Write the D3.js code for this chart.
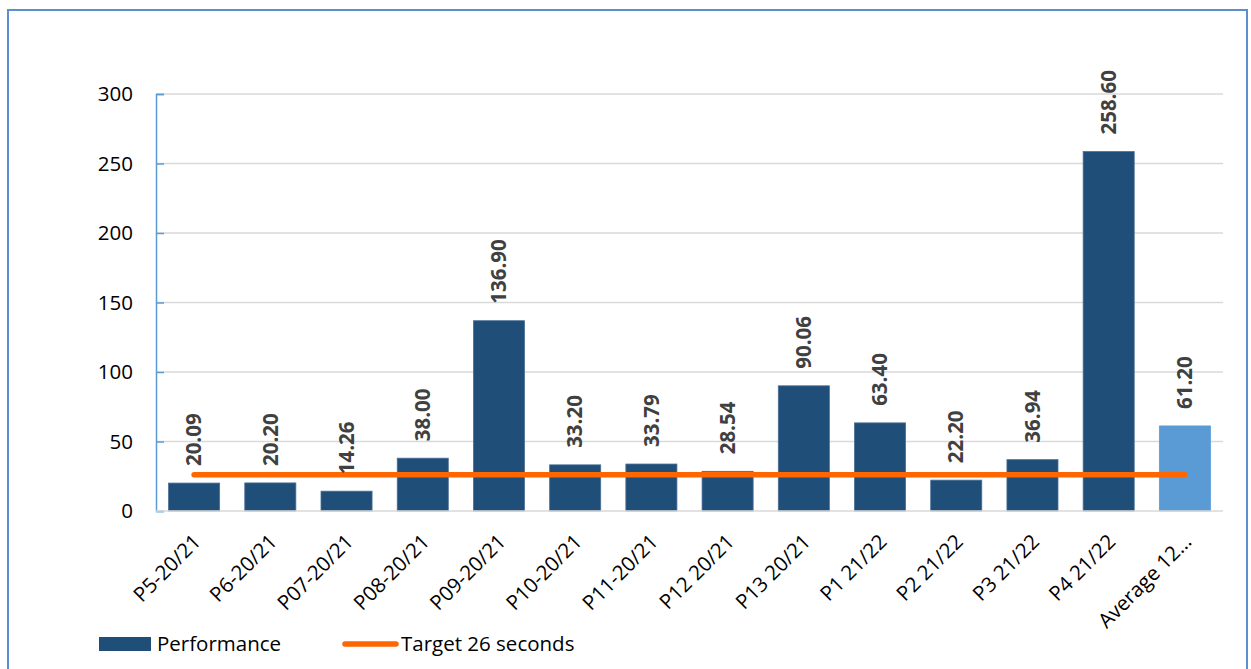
<!DOCTYPE html>
<html>
<head>
<meta charset="utf-8">
<script src="https://cdn.jsdelivr.net/npm/d3@7"></script>
<style>
  html, body { margin: 0; padding: 0; background: #fff; }
  svg { display: block; }
  text { font-family: "Open Sans", "Liberation Sans", sans-serif; }
</style>
</head>
<body>
<svg id="chart" width="1251" height="669"></svg>
<script>
const categories = ["P5-20/21","P6-20/21","P07-20/21","P08-20/21","P09-20/21","P10-20/21","P11-20/21","P12 20/21","P13 20/21","P1 21/22","P2 21/22","P3 21/22","P4 21/22","Average 12…"];
const performance = [20.09, 20.20, 14.26, 38.00, 136.90, 33.20, 33.79, 28.54, 90.06, 63.40, 22.20, 36.94, 258.60, 61.20];
const target = [26,26,26,26,26,26,26,26,26,26,26,26,26,26];
const yTicks = [0, 50, 100, 150, 200, 250, 300];
const seriesNames = ["Performance", "Target 26 seconds"];

(function () {
const svg = d3.select("#chart");
const pLeft = 156, pRight = 1223, pTop = 94, pBottom = 511;

// outer border
svg.append("rect").attr("x", 8).attr("y", 10).attr("width", 1239).attr("height", 680)
  .attr("fill", "none").attr("stroke", "#5b8fd0").attr("stroke-width", 2);

const x = d3.scaleBand().domain(categories).range([pLeft, pRight]).paddingInner(0.33).paddingOuter(0.165);
const y = d3.scaleLinear().domain([0, 300]).range([pBottom, pTop]);

// gridlines
svg.append("g").selectAll("line").data(yTicks.filter(d => d > 0)).join("line")
  .attr("x1", pLeft).attr("x2", pRight)
  .attr("y1", d => y(d)).attr("y2", d => y(d))
  .attr("stroke", "#d9d9d9").attr("stroke-width", 1.5);

// y axis
const yAxis = svg.append("g").attr("transform", `translate(${pLeft},0)`)
  .call(d3.axisLeft(y).tickValues(yTicks).tickSize(-8).tickPadding(23));
yAxis.select(".domain").attr("stroke", "#5b9bd5").attr("stroke-width", 1.5);
yAxis.selectAll(".tick line").attr("stroke", "#5b9bd5").attr("stroke-width", 1.5);
yAxis.selectAll(".tick text").attr("font-size", 20.5).attr("fill", "#000")
  .style("font-family", '"Open Sans", sans-serif');

// bars
svg.append("g").selectAll("rect").data(performance).join("rect")
  .attr("x", (d, i) => x(categories[i]))
  .attr("y", d => y(d))
  .attr("width", x.bandwidth())
  .attr("height", d => y(0) - y(d))
  .attr("fill", (d, i) => i === categories.length - 1 ? "#5b9bd5" : "#1f4e79")
  .attr("stroke", (d, i) => i === categories.length - 1 ? "#5b9bd5" : "#4a6f95")
  .attr("stroke-width", 0.8);

// x axis line
svg.append("line").attr("x1", pLeft).attr("x2", pRight).attr("y1", pBottom).attr("y2", pBottom)
  .attr("stroke", "#d9d9d9").attr("stroke-width", 1.5);

// target line
const line = d3.line().x((d, i) => x(categories[i]) + x.bandwidth() / 2).y(d => y(d));
svg.append("path").datum(target).attr("d", line)
  .attr("fill", "none").attr("stroke", "#ff6600").attr("stroke-width", 5.5).attr("stroke-linecap", "round");

// value labels
svg.append("g").selectAll("text").data(performance).join("text")
  .attr("transform", (d, i) => `translate(${x(categories[i]) + x.bandwidth() / 2},${y(d) - 17}) rotate(-90)`)
  .attr("text-anchor", "start").attr("dy", "0.35em")
  .attr("font-size", 20.5).attr("font-weight", "bold").attr("fill", "#404040")
  .text(d => d.toFixed(2));

// x labels
svg.append("g").selectAll("text").data(categories).join("text")
  .attr("transform", d => `translate(${x(d) + x.bandwidth() / 2 + 8},${pBottom + 32}) rotate(-45)`)
  .attr("text-anchor", "end")
  .attr("font-size", 20.5).attr("fill", "#000")
  .text(d => d);

// legend
const lg = svg.append("g");
lg.append("rect").attr("x", 99).attr("y", 637).attr("width", 52).attr("height", 14).attr("fill", "#1f4e79");
lg.append("text").attr("x", 157).attr("y", 651).attr("font-size", 20.5).attr("fill", "#000").text(seriesNames[0]);
lg.append("line").attr("x1", 345).attr("x2", 396).attr("y1", 644).attr("y2", 644)
  .attr("stroke", "#ff6600").attr("stroke-width", 5.5).attr("stroke-linecap", "round");
lg.append("text").attr("x", 401).attr("y", 651).attr("font-size", 20.5).attr("fill", "#000").text(seriesNames[1]);
})();
</script>
</body>
</html>
